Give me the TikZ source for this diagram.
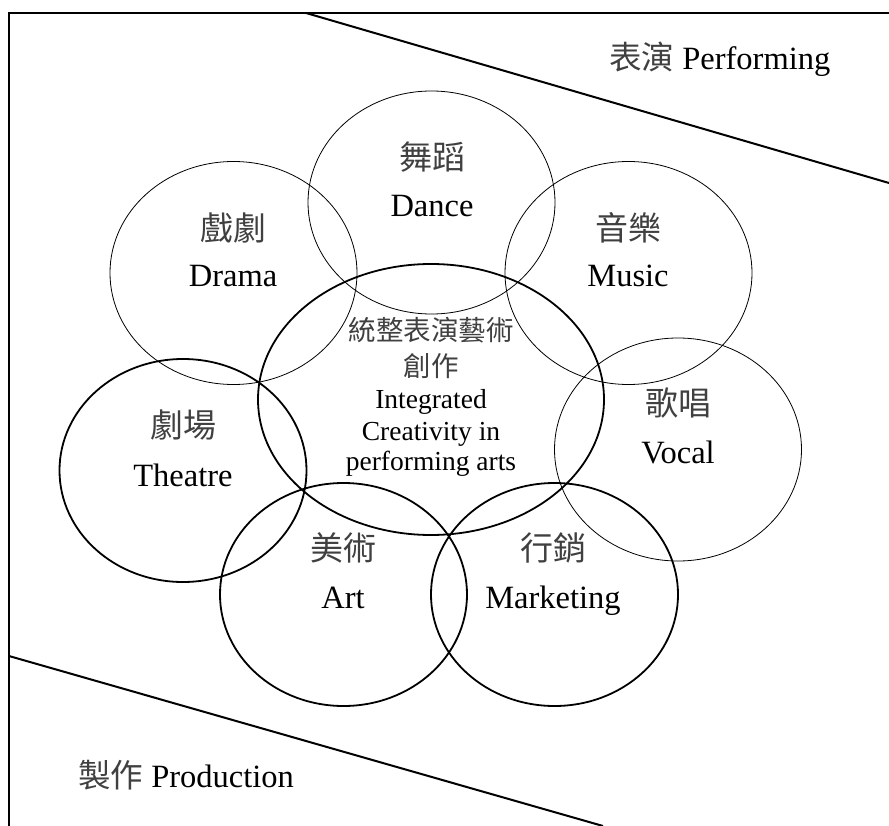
\documentclass[tikz,border=0pt]{standalone}
\usepackage{fontspec}
\setmainfont{Liberation Serif}
\newfontfamily\cjk{Noto Sans CJK TC}
\usetikzlibrary{shapes.geometric}
\begin{document}
\begin{tikzpicture}[x=1pt,y=-1pt,
  frameline/.style={line width=2pt},
  thinring/.style={ellipse,draw,line width=0.8pt,minimum width=247pt,minimum height=223pt,inner sep=0pt},
  thickring/.style={ellipse,draw,line width=1.8pt,minimum width=247pt,minimum height=223pt,inner sep=0pt},
  zh/.style={font=\fontsize{33}{38}\cjk,text=black!75,anchor=center,inner sep=0pt},
  en/.style={font=\fontsize{32.5}{38}\selectfont,anchor=base,inner sep=0pt},
  zhs/.style={font=\fontsize{27.5}{32}\cjk,text=black!75,anchor=center,inner sep=0pt},
  ens/.style={font=\fontsize{27.5}{31}\selectfont,anchor=base,inner sep=0pt}]
\useasboundingbox (0,0) rectangle (889,826);
% frame
\coordinate (bl) at (9,826);
\coordinate (tl) at (9,13);
\coordinate (tr) at (889,13);
\coordinate (d1a) at (306,13);
\coordinate (d1b) at (889,183);
\coordinate (d2a) at (9,656);
\coordinate (d2b) at (603,826);
\draw[frameline] (bl) -- (tl) -- (tr);
\draw[frameline] (d1a) -- (d1b);
\draw[frameline] (d2a) -- (d2b);
% rings
\node[thinring] (dance) at (431.5,202.5) {};
\node[thinring] (drama) at (233.5,273) {};
\node[thinring] (music) at (628.5,273) {};
\node[thinring] (vocal) at (678,449.5) {};
\node[thickring] (theatre) at (183,470.5) {};
\node[thickring] (art) at (343.5,594.5) {};
\node[thickring] (marketing) at (554.5,594.5) {};
\node[ellipse,draw,line width=1.8pt,minimum width=346pt,minimum height=271pt,inner sep=0pt] (core) at (431,399.5) {};
% labels
\node[zh] (dancezh) at (432,157) {舞蹈};
\node[en] (danceen) at (432,217) {Dance};
\node[zh] (dramazh) at (233,228) {戲劇};
\node[en] (dramaen) at (233,287) {Drama};
\node[zh] (musiczh) at (628,228) {音樂};
\node[en] (musicen) at (628,287) {Music};
\node[zh] (vocalzh) at (678,403) {歌唱};
\node[en] (vocalen) at (678,463) {Vocal};
\node[zh] (theatrezh) at (183,425) {劇場};
\node[en] (theatreen) at (183,486) {Theatre};
\node[zh] (artzh) at (343,548) {美術};
\node[en] (arten) at (343,608) {Art};
\node[zh] (marketingzh) at (553,548) {行銷};
\node[en] (marketingen) at (553,608) {Marketing};
\node[zhs] (core1) at (431,330) {統整表演藝術};
\node[zhs] (core2) at (431,366) {創作};
\node[ens] (core3) at (431,408) {Integrated};
\node[ens] (core4) at (431,440) {Creativity in};
\node[ens] (core5) at (431,470) {performing arts};
% areas
\node[en,anchor=base west] (perf) at (609,70) {{\cjk\color{black!75}表演} Performing};
\node[en,anchor=base west] (prod) at (78,787) {{\cjk\color{black!75}製作} Production};
\end{tikzpicture}
\end{document}
